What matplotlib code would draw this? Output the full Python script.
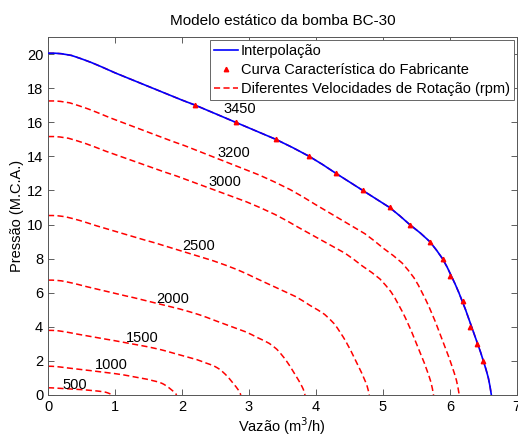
import numpy as np
import matplotlib
matplotlib.use('Agg')
import matplotlib.pyplot as plt

plt.rcParams['font.family'] = ['Liberation Sans', 'DejaVu Sans']

# curva interpolada da bomba a 3450 rpm (vazao m3/h, pressao m.c.a.)
vazao_interp = [0, 0.1, 0.2, 0.35, 0.5, 0.65, 0.8, 1.0, 1.25, 1.5, 1.75, 2.0, 2.2, 2.5, 2.8,
                3.1, 3.4, 3.65, 3.9, 4.1, 4.3, 4.5, 4.7, 4.9, 5.1, 5.25, 5.4, 5.56, 5.7,
                5.8, 5.89, 5.96, 6.02, 6.08, 6.135, 6.185, 6.235, 6.28, 6.325, 6.37, 6.415,
                6.46, 6.5, 6.54, 6.575, 6.6, 6.62]
pressao_interp = [20.05, 20.05, 20.02, 19.92, 19.72, 19.5, 19.25, 18.9, 18.5, 18.1, 17.7,
                  17.3, 17.0, 16.5, 16.0, 15.5, 15.0, 14.52, 14.0, 13.52, 13.0, 12.5, 12.0,
                  11.5, 11.0, 10.52, 10.0, 9.5, 9.0, 8.5, 8.0, 7.5, 7.0, 6.5, 6.0, 5.5,
                  5.0, 4.5, 4.0, 3.5, 3.0, 2.5, 2.0, 1.5, 1.0, 0.5, 0.0]

# pontos do fabricante
vazao_fab = [2.2, 2.8, 3.4, 3.9, 4.3, 4.7, 5.1, 5.4, 5.7, 5.9, 6.0, 6.2, 6.3, 6.4, 6.5]
pressao_fab = [17, 16, 15, 14, 13, 12, 11, 10, 9, 8, 7, 5.5, 4, 3, 2]

# rotacoes (rpm)
rotacoes = [3450, 3200, 3000, 2500, 2000, 1500, 1000, 500]
rot_nominal = 3450

# onde escrever cada rotacao
pos_rotulos = [(2.87, 16.8), (2.77, 14.2), (2.64, 12.5), (2.25, 8.76),
               (1.86, 5.65), (1.41, 3.33), (0.94, 1.75), (0.40, 0.6)]

fig = plt.figure(figsize=(5.18, 4.34), dpi=100)
ax = fig.add_axes([0.0927, 0.0899, 0.905, 0.8248])

Q = np.array(vazao_interp)
H = np.array(pressao_interp)

# leis de afinidade: Q ~ n, H ~ n^2
for i, n in enumerate(rotacoes):
    r = n / rot_nominal
    ax.plot(Q * r, H * r ** 2, color='red', ls='--', dashes=(4, 2.2), lw=1.1, zorder=2,
            label='Diferentes Velocidades de Rotação (rpm)' if i == 0 else None)
    ax.text(pos_rotulos[i][0], pos_rotulos[i][1], str(n), fontsize=10.5,
            ha='center', va='center', zorder=5)

ax.plot(Q, H, color='blue', lw=1.2, zorder=3, label='Interpolação')
ax.plot(vazao_fab, pressao_fab, ls='none', marker='^', ms=3.2, color='red',
        zorder=4, label='Curva Característica do Fabricante')

ax.set_xlim(0, 7)
ax.set_ylim(0, 21)
ax.set_xticks(range(0, 8))
ax.set_yticks(range(0, 21, 2))
ax.tick_params(direction='in', top=True, right=True, labelsize=10.5, length=4, width=0.6,
               colors='#444444', labelcolor='black')
for s in ax.spines.values():
    s.set_color('#555555')
    s.set_linewidth(0.7)

ax.set_title('Modelo estático da bomba BC-30', fontsize=11, pad=9)
ax.set_xlabel('Vazão (m$^3$/h)', fontsize=10.5, labelpad=1)
ax.set_ylabel('Pressão (M.C.A.)', fontsize=10.5, labelpad=2)

h, l = ax.get_legend_handles_labels()
ordem = [1, 2, 0]
leg = ax.legend([h[k] for k in ordem], [l[k] for k in ordem], loc='upper right',
                fontsize=10.5, handlelength=1.6, handletextpad=0.2, borderpad=0.3,
                labelspacing=0.32, borderaxespad=0.2, fancybox=False, framealpha=1)
leg.get_frame().set_edgecolor('#666666')
leg.get_frame().set_linewidth(0.7)

fig.savefig('out.png', dpi=100)
